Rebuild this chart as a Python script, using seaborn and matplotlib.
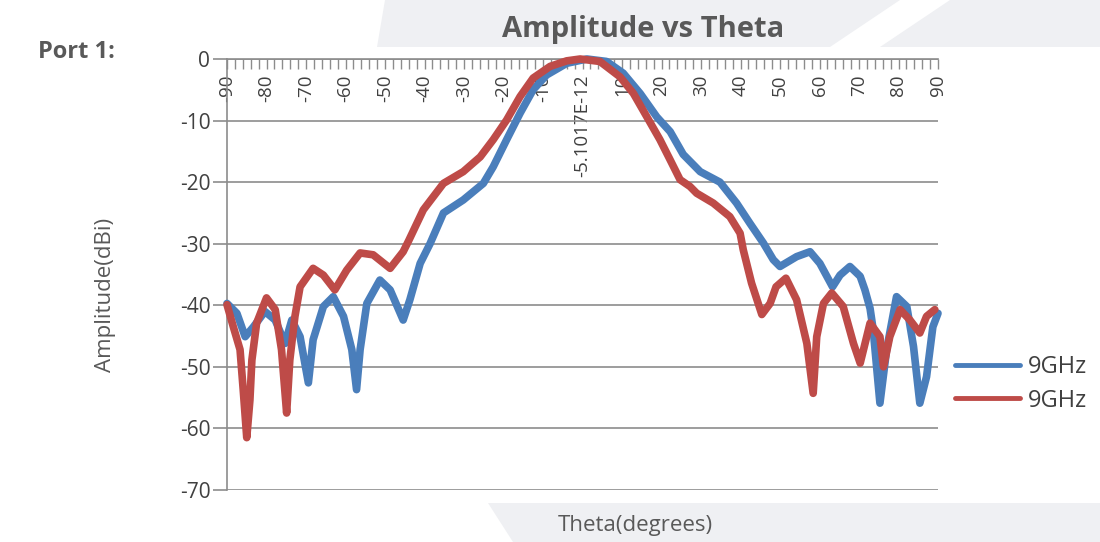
import matplotlib
matplotlib.use("Agg")
import matplotlib.pyplot as plt
import pandas as pd
import seaborn as sns
from matplotlib.patches import Polygon
from matplotlib.ticker import MultipleLocator

# Amplitude pattern (theta in degrees, amplitude in dBi)
theta_blue = [-90, -87.5, -85.4, -83.3, -80.4, -77.8, -75.3, -73.6, -71.5, -69.4,
              -68.2, -65.6, -63.1, -60.5, -58.4, -57.2, -56.3, -54.6, -51.3, -48.7,
              -45.4, -43.7, -41.1, -38.6, -35.2, -30.2, -25.1, -22.6, -19.2, -15.8,
              -12.5, -9.1, -4.0, 1.1, 6.1, 10.3, 14.6, 18.8, 22.2, 25.5,
              29.8, 34.8, 39.0, 42.4, 45.8, 48.3, 50.0, 54.2, 57.6, 60.1,
              63.3, 65.2, 67.7, 70.3, 71.5, 72.8, 73.6, 75.3, 77.0, 79.5,
              82.1, 83.8, 85.4, 87.1, 88.7, 90]
amp_blue = [-39.7, -41.3, -45.1, -43.5, -41.0, -42.4, -46.2, -42.4, -45.1, -52.6,
            -45.6, -40.2, -38.6, -41.8, -47.2, -53.7, -47.2, -39.7, -35.9, -37.5,
            -42.4, -39.1, -33.2, -30.0, -25.0, -22.9, -20.2, -17.5, -13.1, -8.8,
            -5.0, -2.6, -0.7, 0.0, -0.4, -2.3, -5.6, -9.4, -11.8, -15.5,
            -18.3, -20.0, -23.4, -26.7, -29.9, -32.6, -33.7, -32.1, -31.3, -33.2,
            -37.0, -35.1, -33.7, -35.3, -37.5, -40.5, -44.0, -55.9, -47.2, -38.6,
            -40.2, -46.7, -55.9, -51.6, -43.5, -41.3]

theta_red = [-90, -88.4, -86.7, -85.9, -85.0, -84.2, -83.7, -82.5, -80.0, -77.8,
             -76.2, -74.9, -74.1, -72.8, -71.5, -68.2, -65.6, -62.7, -59.7, -56.3,
             -53.0, -48.7, -45.4, -44.0, -40.3, -35.2, -30.2, -25.9, -22.6, -19.2,
             -15.8, -12.5, -8.2, -4.0, -0.6, 4.4, 9.5, 12.9, 16.3, 19.6,
             22.2, 24.7, 27.2, 28.9, 33.1, 37.3, 39.9, 40.7, 42.8, 45.4,
             47.5, 49.0, 51.5, 54.2, 56.8, 58.4, 59.3, 61.0, 63.1, 66.0,
             68.6, 70.3, 72.8, 75.3, 76.2, 77.8, 80.4, 82.9, 85.4, 87.1, 89.2]
amp_red = [-39.9, -43.5, -47.2, -53.7, -61.5, -55.4, -48.9, -42.9, -38.8, -40.7,
           -47.2, -57.5, -48.9, -41.8, -37.0, -34.0, -35.1, -37.5, -34.3, -31.5,
           -31.8, -34.0, -31.3, -29.5, -24.5, -20.2, -18.3, -15.9, -13.1, -9.9,
           -6.1, -3.1, -1.2, -0.3, 0.0, -0.4, -2.9, -5.6, -9.4, -13.1,
           -16.4, -19.6, -20.7, -21.8, -23.4, -25.6, -28.3, -31.0, -36.4, -41.5,
           -39.7, -37.0, -35.6, -39.1, -46.2, -54.3, -45.1, -39.7, -38.0, -40.2,
           -46.2, -49.4, -42.9, -45.1, -50.0, -45.1, -40.7, -42.4, -44.5, -41.8, -40.7]

series_labels = ["9GHz", "9GHz"]
theta_ticks = list(range(-90, 91, 10))
theta_tick_labels = ["-90", "-80", "-70", "-60", "-50", "-40", "-30", "-20", "-10",
                     "-5.1017E-12", "10", "20", "30", "40", "50", "60", "70", "80", "90"]
amp_ticks = [0, -10, -20, -30, -40, -50, -60, -70]

BLUE = "#4a7ebb"
RED = "#be4b48"
GRID = "#8c8c8c"
TEXT = "#595959"
BAND = "#eff0f3"
W, H = 1100, 542

sns.set_theme(style="white")
plt.rcParams["font.family"] = ["Open Sans", "DejaVu Sans"]


def fpos(x, y):
    # pixel position in the reference -> figure fraction
    return (x / W, 1 - y / H)


fig = plt.figure(figsize=(W / 100, H / 100), dpi=100)
fig.patch.set_facecolor("white")

# slide background bands behind the chart
bands = [
    [fpos(385, 0), fpos(900, 0), fpos(830, 47), fpos(377, 47)],
    [fpos(950, 0), fpos(W, 0), fpos(W, 47), fpos(880, 47)],
    [fpos(488, 503), fpos(W, 503), fpos(W, H), fpos(513, H)],
]
for pts in bands:
    fig.patches.append(Polygon(pts, closed=True, transform=fig.transFigure,
                               facecolor=BAND, edgecolor="none", zorder=-10))

x0, y0 = fpos(227, 490)
x1, y1 = fpos(938, 59)
ax = fig.add_axes([x0, y0, x1 - x0, y1 - y0])
ax.set_facecolor("none")

df_blue = pd.DataFrame({"theta": theta_blue, "amp": amp_blue})
df_red = pd.DataFrame({"theta": theta_red, "amp": amp_red})
sns.lineplot(data=df_blue, x="theta", y="amp", color=BLUE, lw=5.5, label=series_labels[0],
             ax=ax, clip_on=False, zorder=3)
sns.lineplot(data=df_red, x="theta", y="amp", color=RED, lw=5.5, label=series_labels[1],
             ax=ax, clip_on=False, zorder=4)

ax.set_xlim(-90, 90)
ax.set_ylim(-70, 0)
ax.set_xlabel("")
ax.set_ylabel("")

# category axis sits on the 0 dB line
ax.spines["bottom"].set_position(("data", 0))
ax.spines["top"].set_visible(False)
ax.spines["right"].set_visible(False)
for s in ("bottom", "left"):
    ax.spines[s].set_color(GRID)
    ax.spines[s].set_linewidth(1.2)

ax.set_xticks(theta_ticks)
ax.set_xticklabels(theta_tick_labels, rotation=90, fontsize=13.5, color="#404040")
ax.xaxis.set_minor_locator(MultipleLocator(2))
ax.tick_params(axis="x", which="both", direction="out", length=7, width=1,
               color=GRID, pad=4, bottom=True)

ax.set_yticks(amp_ticks)
ax.set_yticklabels([str(v) for v in amp_ticks], fontsize=15, color="#404040")
ax.tick_params(axis="y", direction="out", length=10, width=1.2, color=GRID, pad=2, left=True)
ax.yaxis.grid(True, color=GRID, lw=1.2)
ax.xaxis.grid(False)

leg = ax.legend(loc="center left", bbox_to_anchor=fpos(955, 384), bbox_transform=fig.transFigure,
                frameon=False, fontsize=17, handlelength=2.75, handletextpad=0.35,
                labelspacing=0.4, borderpad=0, borderaxespad=0)
for line in leg.get_lines():
    line.set_linewidth(3.5)
for t in leg.get_texts():
    t.set_color("#404040")

fig.text(*fpos(643, 30), "Amplitude vs Theta", ha="center", va="center",
         fontsize=21, fontweight="bold", color=TEXT)
fig.text(*fpos(38, 52), "Port 1:", ha="left", va="center",
         fontsize=17, fontweight="bold", color=TEXT)
fig.text(*fpos(105, 295), "Amplitude(dBi)", ha="center", va="center", rotation=90,
         fontsize=16, color=TEXT)
fig.text(*fpos(635, 525), "Theta(degrees)", ha="center", va="center",
         fontsize=16, color=TEXT)

fig.savefig("out.png", dpi=100)
